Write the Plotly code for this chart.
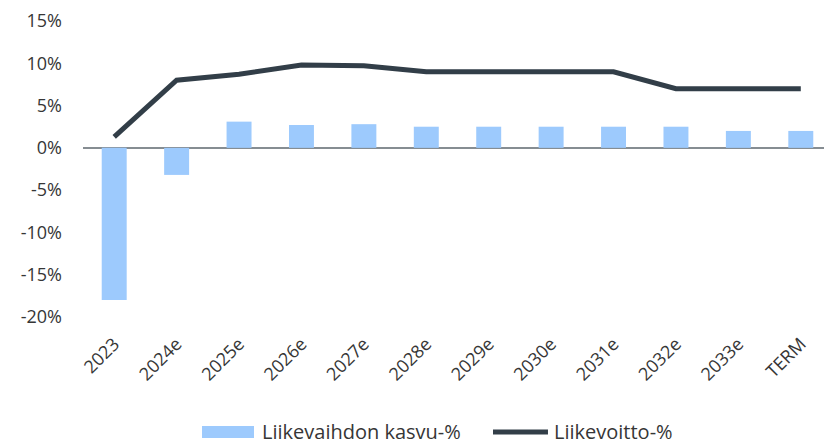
import plotly.graph_objs as go

years = ['2023', '2024e', '2025e', '2026e', '2027e', '2028e', '2029e',
         '2030e', '2031e', '2032e', '2033e', 'TERM']
sales_growth = [-18.0, -3.2, 3.1, 2.7, 2.8, 2.5, 2.5, 2.5, 2.5, 2.5, 2.0, 2.0]
ebit_margin = [1.3, 8.0, 8.7, 9.8, 9.7, 9.0, 9.0, 9.0, 9.0, 7.0, 7.0, 7.0]

y_ticks = [-20, -15, -10, -5, 0, 5, 10, 15]
y_labels = ['-20%', '-15%', '-10%', '-5%', '0%', '5%', '10%', '15%']

bar_name = 'Liikevaihdon kasvu-%'
line_name = 'Liikevoitto-%'

font_family = '"Open Sans", Lato, sans-serif'
text_color = '#363636'
bar_color = '#9dcafd'
line_color = '#323e48'

fig = go.Figure(
    data=[
        go.Bar(
            x=years, y=sales_growth,
            name=bar_name,
            marker=dict(color=bar_color, line=dict(width=0))
        ),
        go.Scatter(
            x=years, y=ebit_margin,
            name=line_name,
            mode='lines',
            line=dict(color=line_color, width=5)
        )
    ]
)

# legend drawn by hand so the swatches get the wide look of the original
fig.add_shape(type='rect', xref='paper', yref='paper',
              x0=0.1589, x1=0.2283, y0=-0.4088, y1=-0.3682,
              fillcolor=bar_color, line_width=0)
fig.add_annotation(xref='paper', yref='paper', x=0.2363, y=-0.3885,
                   text=bar_name, showarrow=False, xanchor='left', yanchor='middle',
                   font=dict(size=20, color=text_color))
fig.add_shape(type='line', xref='paper', yref='paper',
              x0=0.5474, x1=0.6208, y0=-0.3885, y1=-0.3885,
              line=dict(color=line_color, width=5))
fig.add_annotation(xref='paper', yref='paper', x=0.6262, y=-0.3885,
                   text=line_name, showarrow=False, xanchor='left', yanchor='middle',
                   font=dict(size=20, color=text_color))

# page body has an 8px margin, so the figure is a bit smaller than the window
fig.update_layout(
    width=824, height=434,
    plot_bgcolor='white',
    paper_bgcolor='white',
    bargap=0.6,
    font=dict(family=font_family, size=18, color=text_color),
    margin=dict(l=75, r=0, t=13, b=125),
    showlegend=False
)

fig.update_xaxes(
    type='category',
    tickangle=-45,
    showgrid=False,
    showline=False,
    ticks='',
    zeroline=False,
    automargin=False,
    ticklabelstandoff=12,
    tickfont=dict(size=18, color=text_color)
)
fig.update_yaxes(
    range=[-20, 15],
    tickmode='array',
    tickvals=y_ticks,
    ticktext=y_labels,
    showgrid=False,
    showline=False,
    zeroline=True,
    zerolinecolor='#868d92',
    zerolinewidth=2,
    ticks='',
    automargin=False,
    ticklabelstandoff=20,
    tickfont=dict(size=18, color=text_color)
)

fig.write_html('out.html')
